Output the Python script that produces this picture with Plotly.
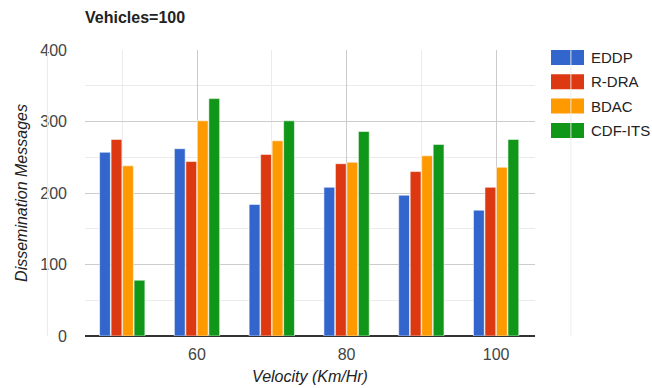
import plotly.graph_objects as go

# ---- data ----
velocity = [50, 60, 70, 80, 90, 100]
series_names = ["EDDP", "R-DRA", "BDAC", "CDF-ITS"]
eddp = [257, 262, 184, 208, 197, 176]
rdra = [275, 244, 254, 241, 230, 208]
bdac = [238, 301, 273, 243, 252, 236]
cdf_its = [78, 332, 301, 286, 268, 275]
x_tick_vals = [60, 80, 100]
y_tick_vals = [0, 100, 200, 300, 400]
outer_grid_vals = [40, 110]

colors = ["#3366cc", "#dc3912", "#ff9900", "#109618"]
values = [eddp, rdra, bdac, cdf_its]

W, H = 652, 388
ML, MR, MT, MB = 85, 117, 50, 52
XR = [45.02, 105.2]
YR = [0, 400]
FONT = "Liberation Sans, Arial, sans-serif"

fig = go.Figure()
for name, col, vals in zip(series_names, colors, values):
    fig.add_trace(go.Bar(
        x=velocity, y=vals, name=name,
        marker=dict(color=col, line=dict(color="rgba(255,255,255,0.55)", width=1)),
        showlegend=False,
    ))

pw = W - ML - MR
ph = H - MT - MB

def px_to_paper_x(px):
    return (px - ML) / pw

def px_to_paper_y(py):
    return (H - MB - py) / ph

shapes = []
annotations = []

# custom legend (wide swatches like the original)
leg_left, leg_top, sw_w, sw_h, step = 551, 50, 33, 15, 24.3
for i, (name, col) in enumerate(zip(series_names, colors)):
    top = leg_top + i * step
    shapes.append(dict(
        type="rect", xref="paper", yref="paper",
        x0=px_to_paper_x(leg_left), x1=px_to_paper_x(leg_left + sw_w),
        y0=px_to_paper_y(top + sw_h), y1=px_to_paper_y(top),
        fillcolor=col, line=dict(width=0), layer="above",
    ))
    annotations.append(dict(
        text=name, xref="paper", yref="paper",
        x=px_to_paper_x(leg_left + sw_w + 5), y=px_to_paper_y(top + sw_h / 2),
        xanchor="left", yanchor="middle", showarrow=False,
        font=dict(family=FONT, size=15, color="#222222"),
    ))

# grid lines outside the plotted range (as in the original)
for v in outer_grid_vals:
    xp = (v - XR[0]) / (XR[1] - XR[0])
    shapes.append(dict(
        type="line", xref="paper", yref="paper",
        x0=xp, x1=xp, y0=0, y1=1,
        line=dict(color="rgba(235,235,235,0.9)", width=1), layer="above",
    ))

fig.update_layout(
    width=W, height=H,
    margin=dict(l=ML, r=MR, t=MT, b=MB, autoexpand=False),
    paper_bgcolor="white", plot_bgcolor="white",
    barmode="group", bargap=0.385, bargroupgap=0.06,
    font=dict(family=FONT, size=16, color="#444444"),
    title=dict(
        text="<b>Vehicles=100</b>", x=px_to_paper_x(ML), xref="paper", xanchor="left",
        y=1 - 17 / H, yref="container", yanchor="middle",
        font=dict(family=FONT, size=16, color="#222222"),
    ),
    xaxis=dict(
        range=XR, tickmode="array", tickvals=x_tick_vals,
        ticktext=[str(v) for v in x_tick_vals],
        showgrid=True, gridcolor="#cccccc", gridwidth=1,
        minor=dict(dtick=10, tick0=0, showgrid=True, gridcolor="#ebebeb"),
        zeroline=False, showline=False, ticks="",
        automargin=False,
        ticklabelstandoff=7,
        tickfont=dict(family=FONT, size=16, color="#444444"),
        title=dict(text="<i>Velocity (Km/Hr)</i>", standoff=8,
                   font=dict(family=FONT, size=16, color="#222222")),
    ),
    yaxis=dict(
        range=YR, tickmode="array", tickvals=y_tick_vals,
        showgrid=True, gridcolor="#cccccc", gridwidth=1,
        minor=dict(dtick=50, tick0=0, showgrid=True, gridcolor="#ebebeb"),
        zeroline=True, zerolinecolor="#333333", zerolinewidth=1.5,
        showline=False, ticks="",
        automargin=False,
        ticklabelstandoff=17,
        tickfont=dict(family=FONT, size=16, color="#444444"),
        title=dict(text="<i>Dissemination Messages</i>", standoff=8,
                   font=dict(family=FONT, size=16, color="#222222")),
    ),
    shapes=shapes,
    annotations=annotations,
)

fig.write_html("out.html")
